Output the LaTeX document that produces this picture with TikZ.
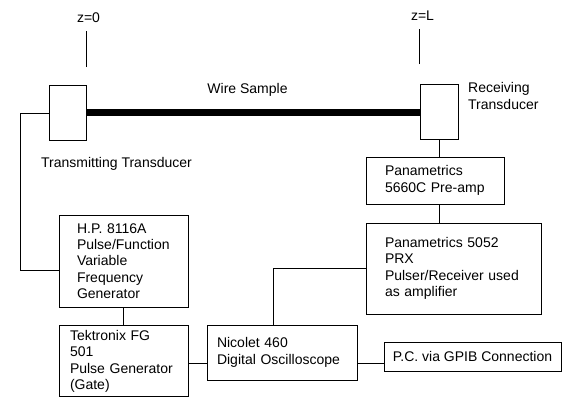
\documentclass[tikz,border=0pt]{standalone}
\usepackage{fontspec}
\setmainfont{Liberation Sans}
\usetikzlibrary{positioning,calc}
\tikzset{
  lab/.style={font=\fontsize{14}{16.3}\selectfont, inner sep=0pt},
  devbox/.style={lab, draw, line width=0.9pt, align=left},
  xducer/.style={draw, line width=0.9pt, minimum width=37pt,
    minimum height=55pt, inner sep=0pt},
  wire/.style={line width=0.9pt},
  sample/.style={line width=7pt},
}

\begin{document}
\begin{tikzpicture}[x=1pt, y=-1pt]
  \useasboundingbox (0,0) rectangle (568,398);

  % transducers and the sample between them
  \node[xducer] (tx) at (67.5,113) {};
  \node[xducer, minimum width=38pt] (rx) at (439,112) {};
  \draw[sample] (tx.east) -- (rx.west |- tx.east);

  \node[lab] (wirelab) at (247.5,90) {Wire Sample};
  \node[lab] (txlab) at (116.5,164) {Transmitting Transducer};
  \node[lab, align=left, anchor=west] (rxlab) at (468,96)
    {Receiving\\Transducer};

  % positions along the wire
  \coordinate (z0bot) at ([yshift=18pt]tx.north east);
  \coordinate (zLbot) at ([yshift=20pt]rx.north west);
  \draw[wire] (z0bot) -- ++(0,-36);
  \draw[wire] (zLbot) -- ++(0,-35);
  \node[lab] (z0lab) at (88.5,17.5) {z=0};
  \node[lab] (zLlab) at (422.5,15.5) {z=L};

  % instruments
  \node[devbox, text width=93pt, inner xsep=18pt, minimum height=92pt]
    (hp) at (123.5,261)
    {H.P. 8116A\\Pulse/Function\\Variable\\Frequency\\Generator};
  \node[devbox, text width=107pt, inner xsep=11pt, minimum height=71pt,
    below=18pt of hp] (tek)
    {Tektronix FG\\501\\Pulse Generator\\(Gate)};
  \node[devbox, text width=100pt, inner xsep=19pt, minimum height=47pt]
    (pa) at (435,180.5) {Panametrics\\5660C Pre-amp};
  \node[devbox, text width=137pt, inner xsep=19pt, minimum height=91pt]
    (prx) at (453.5,268.5)
    {Panametrics 5052\\PRX\\Pulser/Receiver used\\as amplifier};
  \node[devbox, text width=130pt, inner xsep=10pt, minimum height=55pt]
    (nic) at (282,352.5) {Nicolet 460\\Digital Oscilloscope};
  \node[lab, draw, line width=0.9pt, minimum width=177pt, minimum height=29pt]
    (pc) at (472.5,356.5) {P.C. via GPIB Connection};

  % connections
  \coordinate (hpin) at ([yshift=-9pt]hp.west);
  \coordinate (scopein) at ([yshift=-10.5pt]nic.west);
  \coordinate (scopeout) at ([yshift=-10.5pt]nic.east);
  \draw[wire] (tx.west) -- ++(-28,0) |- (hpin);
  \draw[wire] (hp) -- (tek);
  \draw[wire] (rx.south) -- (rx.south |- pa.north);
  \draw[wire] (rx.south |- pa.south) -- (rx.south |- prx.north);
  \draw[wire] (prx.west) -| ([xshift=-9pt]nic.north);
  \draw[wire] (tek.east |- scopein) -- (scopein);
  \draw[wire] (scopeout) -- (scopeout -| pc.west);
\end{tikzpicture}
\end{document}
